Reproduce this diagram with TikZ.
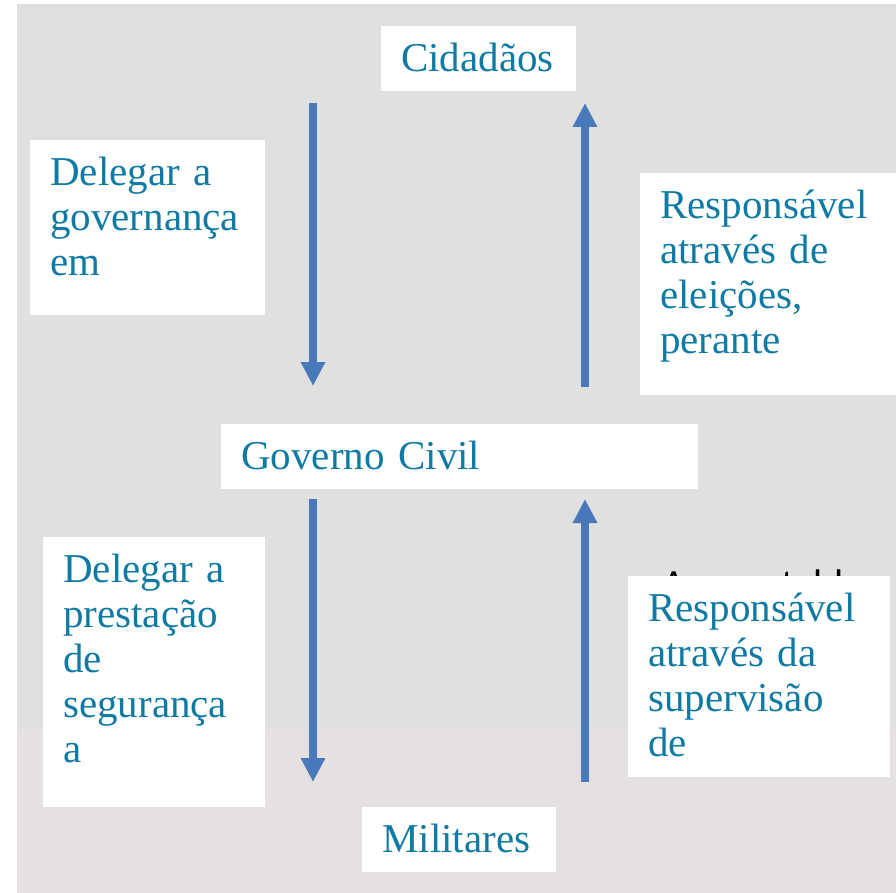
\documentclass[tikz,border=0pt]{standalone}
\usepackage{fontspec}
\setmainfont{Liberation Serif}[WordSpace=0.7]
\newfontfamily\accfont{Carlito}
\usetikzlibrary{arrows.meta}

\definecolor{bggray}{RGB}{224,224,224}
\definecolor{bgpink}{RGB}{229,225,225}
\definecolor{txtblue}{RGB}{15,122,163}
\definecolor{arrblue}{RGB}{72,122,187}

\begin{document}
\begin{tikzpicture}[x=1pt, y=-1pt,
    txtbox/.style={fill=white, text=txtblue, align=left, anchor=north west,
        inner xsep=20pt, inner ysep=0pt, text height=45pt,
        font=\fontsize{41pt}{45pt}\selectfont},
    flow/.style={draw=arrblue, line width=8pt, -{Triangle[width=23pt,length=24pt]}}]
    \useasboundingbox (0,0) rectangle (896,893);
    \fill[white] (0,0) rectangle (896,893);
    \fill[bggray] (17,4) rectangle (896,893);
    \fill[bgpink] (17,730) rectangle (896,893);

    \node[txtbox, text width=155pt, text depth=20pt] (cid) at (381,26) {Cidad\~aos};
    \node[txtbox, text width=437pt, text depth=20pt] (gov) at (221,424) {Governo Civil};
    \node[txtbox, text width=154pt, text depth=20pt] (mil) at (362,807) {Militares};

    \node[txtbox, text width=195pt, text depth=130pt] (deleg1) at (30,140) {
        Delegar a\\
        governança\\
        em
    };
    \node[txtbox, text width=216pt, text depth=177pt] (resp1) at (640,173) {
        Responsável\\
        através de\\
        eleições,\\
        perante
    };
    \node[txtbox, text width=182pt, text depth=225pt] (deleg2) at (43,537) {
        Delegar a\\
        prestação\\
        de\\
        segurança\\
        a
    };
    % mostly hidden behind resp2
    \node[anchor=base west, inner sep=0pt, font=\accfont\fontsize{40pt}{44pt}\selectfont] (acc) at (662,597) {Accountable};
    \node[txtbox, text width=222pt, text depth=156pt] (resp2) at (628,576) {
        Responsável\\
        através da\\
        supervisão\\
        de
    };

    \coordinate (d1s) at (313,103);
    \coordinate (d1e) at (313,386);
    \coordinate (d2s) at (313,499);
    \coordinate (d2e) at (313,782);
    \coordinate (u1s) at (585,387);
    \coordinate (u1e) at (585,103);
    \coordinate (u2s) at (585,782);
    \coordinate (u2e) at (585,499);
    \draw[flow] (d1s) -- (d1e);
    \draw[flow] (d2s) -- (d2e);
    \draw[flow] (u1s) -- (u1e);
    \draw[flow] (u2s) -- (u2e);
\end{tikzpicture}
\end{document}
